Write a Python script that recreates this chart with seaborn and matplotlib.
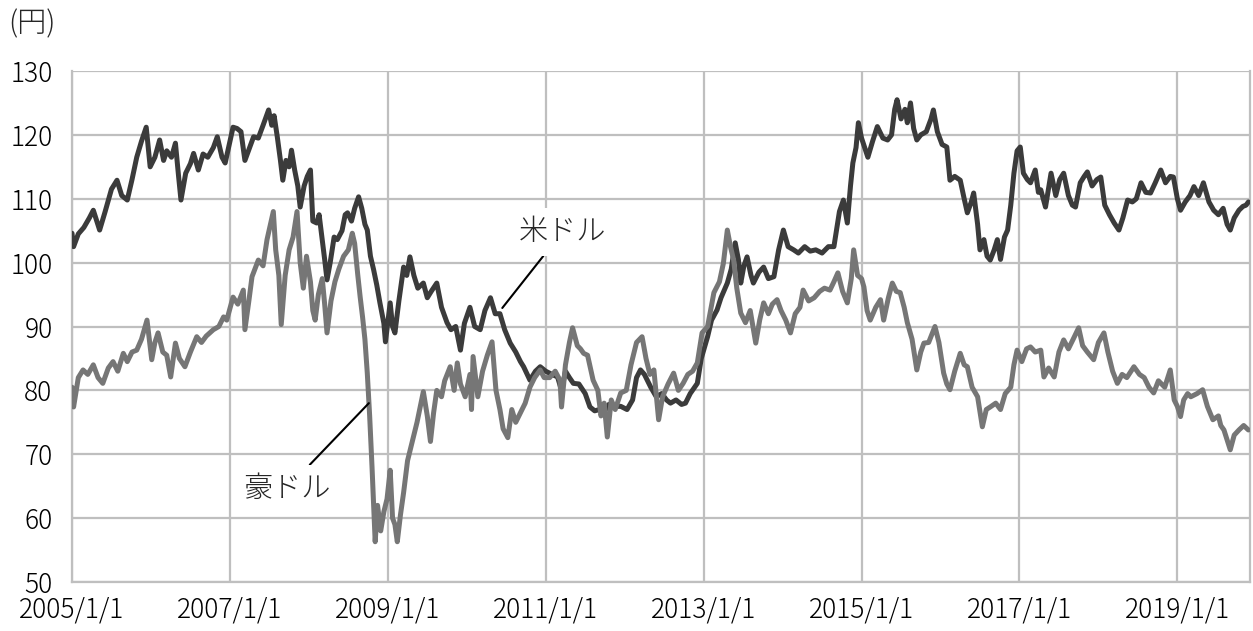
import matplotlib
matplotlib.use("Agg")
import matplotlib.pyplot as plt
import seaborn as sns
import pandas as pd

# ---------------- data ----------------
# time in decimal years, values in JPY
usd_t = [2005.00, 2005.02, 2005.08, 2005.15, 2005.22, 2005.27, 2005.35, 2005.42, 2005.50, 2005.57,
         2005.63, 2005.70, 2005.76, 2005.82, 2005.88, 2005.94, 2005.99, 2006.05, 2006.11, 2006.16,
         2006.20, 2006.26, 2006.31, 2006.35, 2006.38, 2006.44, 2006.50, 2006.54, 2006.60, 2006.66,
         2006.72, 2006.79, 2006.84, 2006.90, 2006.94, 2007.00, 2007.04, 2007.09, 2007.14, 2007.19,
         2007.25, 2007.30, 2007.36, 2007.42, 2007.49, 2007.53, 2007.56, 2007.60, 2007.64, 2007.67,
         2007.71, 2007.75, 2007.78, 2007.82, 2007.86, 2007.89, 2007.94, 2007.98, 2008.02, 2008.05,
         2008.10, 2008.13, 2008.17, 2008.20, 2008.23, 2008.27, 2008.32, 2008.36, 2008.42, 2008.46,
         2008.49, 2008.54, 2008.58, 2008.63, 2008.67, 2008.71, 2008.74, 2008.78, 2008.82, 2008.86,
         2008.90, 2008.95, 2008.97, 2009.03, 2009.06, 2009.09, 2009.14, 2009.20, 2009.24, 2009.28,
         2009.33, 2009.38, 2009.45, 2009.50, 2009.55, 2009.62, 2009.68, 2009.75, 2009.80, 2009.86,
         2009.92, 2009.97, 2010.04, 2010.10, 2010.17, 2010.23, 2010.30, 2010.36, 2010.42, 2010.48,
         2010.55, 2010.62, 2010.68, 2010.72, 2010.80, 2010.87, 2010.93, 2011.00, 2011.08, 2011.15,
         2011.20, 2011.25, 2011.30, 2011.35, 2011.42, 2011.50, 2011.56, 2011.62, 2011.68, 2011.73,
         2011.80, 2011.87, 2011.95, 2012.03, 2012.10, 2012.15, 2012.20, 2012.25, 2012.33, 2012.40,
         2012.47, 2012.53, 2012.58, 2012.65, 2012.72, 2012.77, 2012.83, 2012.92, 2012.97, 2013.05,
         2013.10, 2013.17, 2013.22, 2013.30, 2013.35, 2013.40, 2013.44, 2013.47, 2013.51, 2013.55,
         2013.60, 2013.63, 2013.70, 2013.76, 2013.82, 2013.89, 2013.95, 2014.01, 2014.07, 2014.14,
         2014.20, 2014.28, 2014.35, 2014.42, 2014.50, 2014.58, 2014.65, 2014.72, 2014.77, 2014.82,
         2014.86, 2014.89, 2014.93, 2014.96, 2015.00, 2015.04, 2015.08, 2015.14, 2015.20, 2015.27,
         2015.33, 2015.38, 2015.42, 2015.45, 2015.50, 2015.55, 2015.58, 2015.62, 2015.66, 2015.70,
         2015.75, 2015.82, 2015.88, 2015.91, 2015.96, 2016.02, 2016.08, 2016.12, 2016.18, 2016.25,
         2016.30, 2016.34, 2016.39, 2016.42, 2016.47, 2016.50, 2016.55, 2016.59, 2016.63, 2016.68,
         2016.72, 2016.76, 2016.81, 2016.85, 2016.89, 2016.93, 2016.97, 2017.01, 2017.05, 2017.10,
         2017.14, 2017.20, 2017.24, 2017.27, 2017.33, 2017.40, 2017.46, 2017.51, 2017.56, 2017.62,
         2017.67, 2017.71, 2017.77, 2017.82, 2017.86, 2017.92, 2017.98, 2018.03, 2018.08, 2018.14,
         2018.20, 2018.26, 2018.31, 2018.37, 2018.43, 2018.48, 2018.54, 2018.60, 2018.66, 2018.72,
         2018.79, 2018.85, 2018.91, 2018.95, 2019.00, 2019.04, 2019.10, 2019.16, 2019.21, 2019.27,
         2019.33, 2019.40, 2019.46, 2019.52, 2019.58, 2019.63, 2019.67, 2019.72, 2019.78, 2019.83,
         2019.87, 2019.90]
usd_v = [104.6, 102.5, 104.5, 105.5, 107.0, 108.2, 105.1, 108.0, 111.5, 112.9,
         110.5, 109.8, 113.0, 116.5, 119.0, 121.2, 115.0, 116.5, 119.2, 116.0,
         117.5, 116.5, 118.7, 113.5, 109.8, 114.0, 115.5, 117.1, 114.5, 117.0,
         116.5, 118.0, 119.7, 116.5, 115.6, 119.0, 121.2, 121.0, 120.5, 116.0,
         118.0, 119.7, 119.5, 121.5, 123.9, 121.5, 123.0, 119.7, 116.0, 112.9,
         116.0, 115.0, 117.6, 114.5, 112.0, 108.7, 112.0, 113.5, 114.5, 106.5,
         106.2, 107.5, 103.5, 100.5, 97.3, 100.0, 104.0, 103.6, 105.0, 107.5,
         107.8, 106.5, 108.5, 110.3, 108.5, 106.0, 105.1, 101.0, 98.9, 96.5,
         93.7, 90.5, 87.6, 93.7, 90.0, 89.0, 94.0, 99.3, 98.0, 100.9,
         98.0, 96.0, 96.8, 94.5, 95.5, 96.8, 93.0, 90.6, 89.5, 90.0,
         86.3, 90.5, 93.0, 90.0, 89.5, 92.5, 94.5, 92.0, 92.0, 89.5,
         87.4, 86.0, 84.5, 83.7, 81.6, 83.0, 83.7, 83.0, 82.5, 82.1,
         80.0, 83.0, 82.0, 81.1, 81.0, 79.5, 77.4, 76.8, 77.0, 76.5,
         77.8, 77.5, 77.5, 77.0, 78.5, 82.0, 83.2, 82.5, 80.5, 79.0,
         79.5, 78.5, 78.0, 78.5, 77.8, 78.0, 79.5, 81.1, 85.0, 88.4,
         91.0, 92.6, 94.5, 96.8, 99.0, 103.1, 100.5, 96.8, 99.5, 100.9,
         98.0, 96.8, 98.5, 99.3, 97.5, 97.8, 102.0, 105.1, 102.5, 102.0,
         101.5, 102.5, 101.8, 102.0, 101.5, 102.5, 102.5, 108.0, 109.8, 106.2,
         112.0, 115.6, 118.0, 121.9, 119.5, 118.0, 116.5, 119.0, 121.3, 119.5,
         119.2, 120.0, 124.0, 125.5, 122.5, 124.0, 121.9, 125.0, 121.0, 119.2,
         120.0, 120.5, 122.5, 123.9, 120.5, 118.5, 118.1, 112.9, 113.5, 112.9,
         110.0, 107.8, 109.5, 110.9, 106.0, 102.0, 103.6, 101.0, 100.4, 102.0,
         103.6, 100.5, 104.0, 105.1, 109.0, 114.0, 117.5, 118.1, 114.0, 113.0,
         112.5, 114.5, 111.0, 111.4, 108.7, 114.0, 110.5, 113.0, 114.0, 110.5,
         109.0, 108.7, 112.5, 113.5, 114.2, 112.0, 113.0, 113.4, 109.0, 107.5,
         106.2, 105.1, 107.0, 109.8, 109.5, 110.0, 112.5, 111.0, 110.9, 112.5,
         114.5, 112.5, 113.5, 113.4, 110.0, 108.2, 109.5, 110.5, 111.9, 110.5,
         112.5, 109.5, 108.2, 107.5, 108.5, 106.0, 105.1, 107.0, 108.2, 108.8,
         109.0, 109.5]

aud_t = [2005.00, 2005.02, 2005.08, 2005.14, 2005.20, 2005.27, 2005.33, 2005.39, 2005.46, 2005.52,
         2005.58, 2005.65, 2005.70, 2005.76, 2005.82, 2005.88, 2005.95, 2006.01, 2006.05, 2006.09,
         2006.15, 2006.20, 2006.25, 2006.31, 2006.36, 2006.43, 2006.50, 2006.58, 2006.64, 2006.70,
         2006.79, 2006.86, 2006.92, 2006.96, 2007.04, 2007.10, 2007.17, 2007.19, 2007.24, 2007.28,
         2007.36, 2007.42, 2007.47, 2007.55, 2007.58, 2007.62, 2007.65, 2007.70, 2007.75, 2007.80,
         2007.85, 2007.89, 2007.93, 2007.97, 2008.02, 2008.05, 2008.08, 2008.12, 2008.17, 2008.20,
         2008.23, 2008.28, 2008.33, 2008.38, 2008.44, 2008.50, 2008.55, 2008.58, 2008.62, 2008.65,
         2008.68, 2008.71, 2008.74, 2008.77, 2008.80, 2008.84, 2008.87, 2008.91, 2008.95, 2008.99,
         2009.03, 2009.06, 2009.09, 2009.12, 2009.16, 2009.20, 2009.25, 2009.30, 2009.37, 2009.45,
         2009.50, 2009.54, 2009.58, 2009.62, 2009.68, 2009.72, 2009.79, 2009.84, 2009.88, 2009.92,
         2009.98, 2010.04, 2010.06, 2010.08, 2010.14, 2010.20, 2010.26, 2010.32, 2010.37, 2010.42,
         2010.46, 2010.52, 2010.57, 2010.62, 2010.68, 2010.74, 2010.80, 2010.86, 2010.93, 2010.98,
         2011.05, 2011.12, 2011.18, 2011.20, 2011.25, 2011.30, 2011.34, 2011.40, 2011.44, 2011.48,
         2011.53, 2011.60, 2011.66, 2011.70, 2011.74, 2011.78, 2011.83, 2011.88, 2011.95, 2012.02,
         2012.08, 2012.15, 2012.22, 2012.27, 2012.32, 2012.37, 2012.43, 2012.48, 2012.55, 2012.62,
         2012.68, 2012.74, 2012.80, 2012.86, 2012.92, 2012.98, 2013.05, 2013.13, 2013.20, 2013.25,
         2013.30, 2013.34, 2013.38, 2013.42, 2013.47, 2013.53, 2013.59, 2013.66, 2013.71, 2013.76,
         2013.82, 2013.87, 2013.93, 2013.98, 2014.04, 2014.10, 2014.16, 2014.22, 2014.26, 2014.33,
         2014.40, 2014.47, 2014.53, 2014.60, 2014.65, 2014.70, 2014.76, 2014.82, 2014.87, 2014.90,
         2014.95, 2015.00, 2015.03, 2015.07, 2015.11, 2015.18, 2015.24, 2015.28, 2015.34, 2015.39,
         2015.44, 2015.49, 2015.54, 2015.58, 2015.64, 2015.70, 2015.75, 2015.79, 2015.85, 2015.93,
         2015.98, 2016.04, 2016.08, 2016.12, 2016.18, 2016.25, 2016.30, 2016.34, 2016.40, 2016.47,
         2016.53, 2016.58, 2016.63, 2016.70, 2016.76, 2016.82, 2016.89, 2016.93, 2016.97, 2017.03,
         2017.09, 2017.14, 2017.20, 2017.27, 2017.31, 2017.37, 2017.44, 2017.50, 2017.56, 2017.62,
         2017.68, 2017.75, 2017.80, 2017.86, 2017.94, 2018.00, 2018.07, 2018.12, 2018.18, 2018.24,
         2018.30, 2018.36, 2018.45, 2018.52, 2018.58, 2018.64, 2018.70, 2018.76, 2018.84, 2018.91,
         2018.96, 2019.00, 2019.04, 2019.08, 2019.13, 2019.17, 2019.25, 2019.32, 2019.38, 2019.45,
         2019.52, 2019.55, 2019.59, 2019.67, 2019.72, 2019.78, 2019.84, 2019.90]
aud_v = [80.5, 77.4, 82.0, 83.2, 82.5, 84.0, 82.0, 81.1, 83.5, 84.5,
         83.0, 85.8, 84.5, 86.0, 86.3, 88.0, 91.0, 84.8, 87.5, 89.0,
         86.0, 85.5, 82.1, 87.4, 85.0, 83.7, 86.0, 88.4, 87.5, 88.5,
         89.5, 90.0, 91.5, 91.0, 94.6, 93.5, 95.7, 89.5, 94.0, 97.8,
         100.4, 99.5, 103.6, 108.0, 102.0, 98.0, 90.3, 98.0, 102.0, 104.0,
         108.0, 100.0, 96.0, 101.0, 97.0, 92.5, 91.0, 95.0, 97.5, 93.5,
         89.0, 94.0, 97.0, 99.0, 101.0, 102.0, 104.6, 103.0, 98.0, 94.6,
         91.5, 88.0, 82.7, 76.0, 68.0, 56.3, 62.0, 58.0, 61.0, 63.0,
         67.5, 60.0, 59.0, 56.3, 60.5, 64.0, 69.0, 71.5, 75.0, 79.8,
         76.0, 72.0, 76.5, 80.0, 79.0, 81.5, 83.7, 80.0, 84.3, 81.0,
         79.0, 82.5, 77.0, 85.3, 79.0, 83.0, 85.5, 87.6, 80.0, 77.0,
         74.0, 72.6, 77.0, 75.0, 76.5, 78.0, 80.5, 82.0, 83.2, 82.0,
         82.0, 83.0, 81.6, 77.4, 84.0, 87.5, 89.8, 87.0, 86.5, 85.8,
         85.5, 81.6, 80.0, 76.0, 78.0, 72.7, 78.5, 77.0, 79.6, 80.0,
         84.0, 87.5, 88.4, 85.0, 82.5, 83.2, 75.4, 79.0, 81.0, 82.7,
         80.0, 81.1, 82.5, 83.0, 84.3, 89.0, 90.0, 95.3, 97.0, 99.9,
         105.1, 102.5, 100.4, 96.0, 92.1, 90.6, 92.5, 87.4, 91.0, 93.7,
         92.0, 93.5, 94.2, 92.5, 91.0, 89.0, 92.0, 93.0, 95.7, 94.0,
         94.5, 95.5, 96.0, 95.7, 97.0, 98.4, 95.5, 93.7, 97.5, 102.0,
         98.0, 97.5, 96.2, 92.5, 91.0, 93.0, 94.2, 91.0, 94.5, 96.8,
         95.5, 95.3, 93.0, 90.6, 88.0, 83.2, 86.0, 87.4, 87.5, 90.0,
         87.5, 82.7, 81.0, 80.1, 83.0, 85.8, 84.0, 83.7, 80.5, 79.0,
         74.3, 77.0, 77.4, 78.0, 77.0, 79.5, 80.5, 84.0, 86.3, 84.5,
         86.5, 86.8, 86.0, 86.3, 82.1, 83.5, 82.1, 86.0, 87.9, 86.5,
         88.0, 89.8, 87.0, 86.0, 84.8, 87.5, 89.0, 86.0, 83.0, 81.1,
         82.5, 82.0, 83.7, 82.5, 82.0, 80.5, 79.6, 81.5, 80.5, 83.2,
         78.5, 77.5, 75.9, 78.5, 79.5, 79.0, 79.5, 80.1, 77.5, 75.4,
         76.0, 74.5, 73.8, 70.7, 73.0, 73.8, 74.5, 73.8]

year_ticks = [2005, 2007, 2009, 2011, 2013, 2015, 2017, 2019]
tick_labels = [f"{y}/1/1" for y in year_ticks]
y_ticks = [50, 60, 70, 80, 90, 100, 110, 120, 130]
series_names = ["米ドル", "豪ドル"]

# ---------------- styling ----------------
sns.set_theme(style="white")
plt.rcParams["font.family"] = ["Noto Sans CJK JP", "DejaVu Sans"]

usd = pd.DataFrame({"t": usd_t, "v": usd_v})
aud = pd.DataFrame({"t": aud_t, "v": aud_v})

W, H = 1253, 631
fig = plt.figure(figsize=(W / 100, H / 100), dpi=100)
ax = fig.add_axes([72 / W, 1 - 582 / H, (1250 - 72) / W, (582 - 71) / H])

grid_c = "#BFBFBF"
sns.lineplot(data=usd, x="t", y="v", color="#3b3b3b", linewidth=3.6, ax=ax, zorder=3)
sns.lineplot(data=aud, x="t", y="v", color="#767676", linewidth=3.6, ax=ax, zorder=3)

ax.set_xlim(2005.0, 2019.92)
ax.set_ylim(50, 130)
ax.set_xticks(year_ticks)
ax.set_xticklabels(tick_labels)
ax.set_yticks(y_ticks)
ax.set_xlabel("")
ax.set_ylabel("")
ax.grid(True, color=grid_c, linewidth=1.6)
ax.set_axisbelow(True)
for side in ["left", "bottom", "right"]:
    ax.spines[side].set_visible(True)
    ax.spines[side].set_color(grid_c)
    ax.spines[side].set_linewidth(1.6)
ax.spines["top"].set_visible(False)
ax.tick_params(axis="both", length=0, labelsize=19, colors="#000000")
ax.tick_params(axis="y", pad=14)
ax.tick_params(axis="x", pad=10)
for lab in ax.get_xticklabels() + ax.get_yticklabels():
    lab.set_fontweight("light")

fig.text(8 / W, 1 - 24 / H, "(円)", fontsize=21, va="center", ha="left", fontweight="light")

box = dict(boxstyle="square,pad=0.3", fc="white", ec="none")
ax.annotate(series_names[0], xy=(2010.45, 92.9), xytext=(2011.21, 104.8),
            fontsize=21, ha="center", va="center", bbox=box, zorder=5, fontweight="light",
            arrowprops=dict(arrowstyle="-", color="black", lw=1.5, shrinkA=0, shrinkB=0))
ax.annotate(series_names[1], xy=(2008.76, 78.0), xytext=(2007.72, 64.6),
            fontsize=21, ha="center", va="center", bbox=box, zorder=5, fontweight="light",
            arrowprops=dict(arrowstyle="-", color="black", lw=1.5, shrinkA=0, shrinkB=0))

fig.savefig("out.png", dpi=100)
